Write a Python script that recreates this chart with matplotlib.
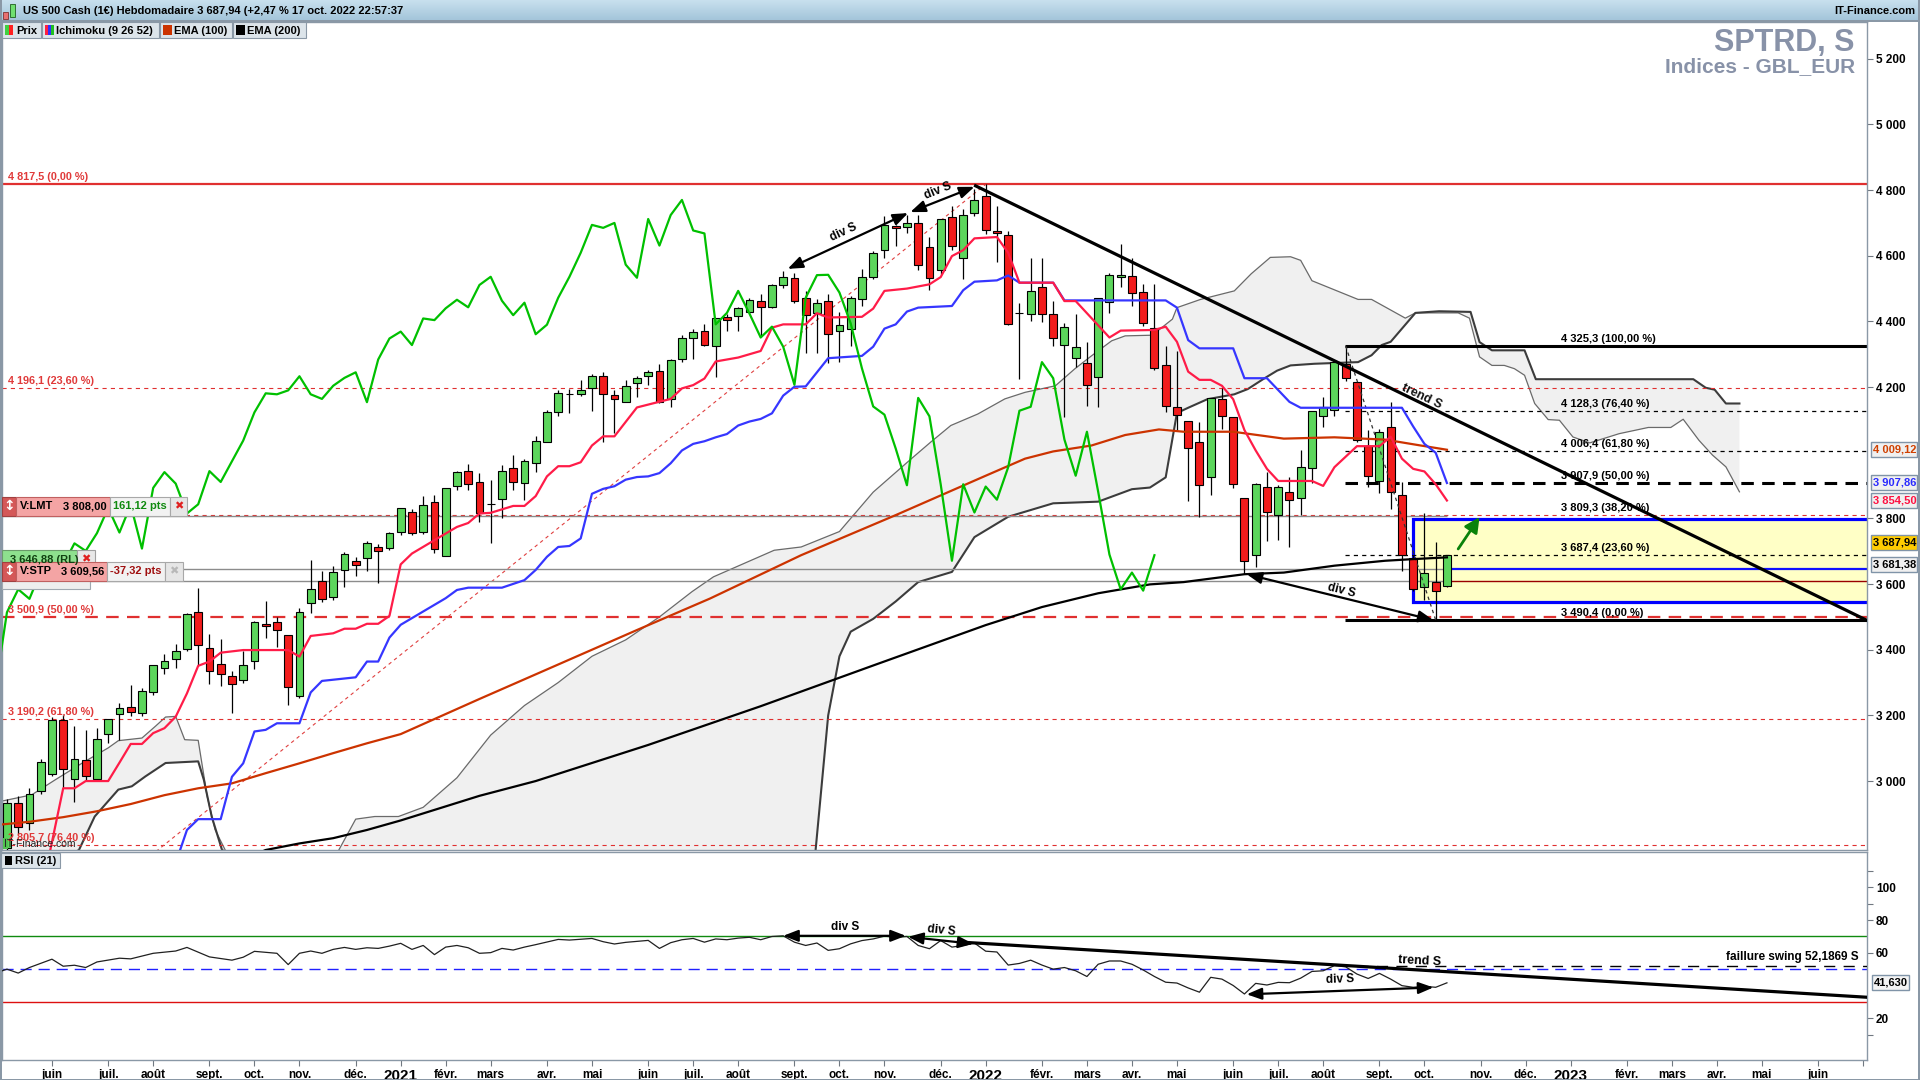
"""Weekly US 500 chart: candles, Ichimoku, EMA 100/200, fib levels and RSI (21)."""

import datetime as dt

import matplotlib
matplotlib.use("Agg")
import matplotlib.pyplot as plt
import matplotlib.transforms as mtransforms
from matplotlib.colors import LinearSegmentedColormap
from matplotlib.patches import FancyArrowPatch, Rectangle
import numpy as np

NARROW = ["Liberation Sans Narrow", "Liberation Sans", "DejaVu Sans"]
plt.rcParams.update({
    "font.family": NARROW,
    "font.weight": "bold",
    "font.size": 8,
    "lines.scale_dashes": False,
})

W, H = 1920, 1080

# ------------------------------------------------------------------
# data (week index 0 = week of 3 Jan 2022, first candle = week -87)
# ------------------------------------------------------------------
FIRST_WEEK = -87
opens = [2795, 2932, 2871, 2971, 3022, 3186, 3006, 3064, 3005, 3143,
         3204, 3225, 3207, 3270, 3344, 3371, 3401, 3514, 3404, 3356,
         3320, 3308, 3366, 3478, 3484, 3444, 3259, 3542, 3608, 3560,
         3643, 3670, 3679, 3713, 3709, 3759, 3820, 3759, 3850, 3686,
         3899, 3944, 3911, 3843, 3858, 3953, 3909, 3968, 4034, 4123,
         4178, 4178, 4196, 4235, 4177, 4154, 4211, 4233, 4250, 4164,
         4287, 4349, 4371, 4324, 4413, 4416, 4430, 4463, 4445, 4512,
         4532, 4472, 4425, 4462, 4371, 4378, 4467, 4536, 4619, 4690,
         4688, 4700, 4627, 4558, 4718, 4594, 4730, 4781, 4675, 4664,
         4426, 4422, 4506, 4424, 4329, 4290, 4272, 4232, 4460, 4536,
         4538, 4489, 4380, 4266, 4139, 4098, 4034, 3927, 4165, 4109,
         3861, 3690, 3897, 3811, 3881, 3861, 3954, 4113, 4131, 4271,
         4214, 4020, 3914, 4078, 3870, 3680, 3590, 3605, 3593]
highs = [2945, 2953, 2978, 3066, 3196, 3201, 3168, 3156, 3163, 3188,
         3239, 3293, 3282, 3354, 3387, 3417, 3512, 3587, 3447, 3432,
         3335, 3396, 3487, 3549, 3501, 3445, 3526, 3672, 3640, 3655,
         3699, 3681, 3732, 3721, 3760, 3832, 3828, 3868, 3872, 3893,
         3945, 3966, 3939, 3918, 3963, 3992, 3982, 4050, 4130, 4192,
         4194, 4221, 4240, 4245, 4191, 4221, 4235, 4252, 4270, 4287,
         4358, 4376, 4393, 4409, 4424, 4444, 4470, 4482, 4513, 4553,
         4548, 4493, 4467, 4482, 4429, 4477, 4560, 4614, 4720, 4695,
         4725, 4725, 4658, 4712, 4751, 4741, 4803, 4817.5, 4751, 4675,
         4455, 4594, 4592, 4462, 4396, 4422, 4338, 4472, 4546, 4636,
         4592, 4513, 4513, 4326, 4309, 4098, 4095, 4167, 4196, 4109,
         3863, 3909, 3942, 3902, 3925, 4009, 4128, 4170, 4278, 4325.3,
         4214, 4069, 4072, 4154, 3912, 3690, 3817, 3728, 3688]
lows = [2780, 2840, 2850, 2962, 3015, 2980, 2937, 3003, 3003, 3115,
        3125, 3198, 3198, 3262, 3325, 3345, 3396, 3352, 3295, 3290,
        3207, 3300, 3340, 3437, 3407, 3232, 3252, 3511, 3545, 3552,
        3592, 3626, 3641, 3602, 3704, 3750, 3749, 3754, 3695, 3686,
        3885, 3885, 3789, 3726, 3801, 3888, 3855, 3941, 4032, 4111,
        4120, 4174, 4128, 4034, 4061, 4154, 4169, 4207, 4150, 4138,
        4275, 4287, 4324, 4232, 4371, 4371, 4429, 4356, 4442, 4503,
        4457, 4305, 4305, 4272, 4277, 4326, 4447, 4528, 4593, 4629,
        4670, 4558, 4495, 4543, 4619, 4530, 4722, 4665, 4582, 4390,
        4224, 4402, 4399, 4326, 4108, 4262, 4141, 4138, 4425, 4505,
        4447, 4386, 4253, 4125, 4070, 3854, 3804, 3870, 4072, 3892,
        3630, 3651, 3730, 3733, 3713, 3811, 3907, 4077, 4113, 4219,
        4033, 3896, 3878, 3828, 3640, 3580, 3550, 3490.4, 3590]
closes = [2934, 2859, 2960, 3059, 3186, 3037, 3066, 3016, 3127, 3188,
          3222, 3210, 3274, 3352, 3366, 3396, 3509, 3414, 3335, 3326,
          3296, 3353, 3485, 3472, 3460, 3286, 3514, 3584, 3555, 3638,
          3691, 3658, 3724, 3701, 3755, 3832, 3757, 3841, 3708, 3893,
          3941, 3906, 3815, 3843, 3944, 3911, 3974, 4037, 4123, 4181,
          4178, 4190, 4233, 4178, 4164, 4204, 4228, 4245, 4154, 4284,
          4348, 4369, 4328, 4409, 4404, 4440, 4466, 4443, 4511, 4536,
          4463, 4419, 4457, 4361, 4390, 4472, 4536, 4609, 4694, 4685,
          4700, 4573, 4533, 4712, 4631, 4724, 4770, 4677, 4668, 4391,
          4426, 4493, 4424, 4351, 4384, 4323, 4207, 4472, 4541, 4542,
          4488, 4394, 4257, 4141, 4116, 4013, 3901, 4167, 4111, 3904,
          3671, 3904, 3818, 3897, 3857, 3956, 4128, 4140, 4276, 4227,
          4040, 3930, 4064, 3881, 3690, 3584, 3635, 3580, 3687.94]

# indicator lines: (week, value)
tenkan = [(-84, 2650), (-82, 2978), (-81, 2978), (-80, 3000), (-78, 3000), (-77, 3056),
          (-76, 3113), (-75, 3113), (-74, 3146), (-73, 3161), (-72, 3196), (-71, 3267),
          (-70, 3351), (-69, 3364), (-68, 3391), (-66, 3399), (-62, 3399), (-61, 3379),
          (-60, 3442), (-58, 3450), (-57, 3464), (-56, 3464), (-55, 3479), (-54, 3479),
          (-53, 3503), (-52, 3660), (-51, 3693), (-48, 3754), (-47, 3774), (-46, 3786),
          (-45, 3815), (-44, 3817), (-42, 3838), (-41, 3838), (-40, 3868), (-39, 3928),
          (-38, 3959), (-37, 3959), (-36, 3971), (-35, 4022), (-34, 4050), (-33, 4050),
          (-31, 4138), (-28, 4164), (-27, 4196), (-26, 4206), (-25, 4226), (-24, 4278),
          (-22, 4290), (-20, 4310), (-19, 4381), (-18, 4391), (-16, 4391), (-15, 4425),
          (-14, 4412), (-11, 4414), (-10, 4439), (-9, 4493), (-7, 4500), (-5, 4513),
          (-4, 4535), (-3, 4599), (-2, 4617), (-1, 4653), (1, 4657), (2, 4609),
          (3, 4518), (6, 4518), (7, 4462), (8, 4462), (11, 4351), (12, 4372),
          (15, 4374), (16, 4384), (17, 4338), (18, 4247), (19, 4222), (20, 4222),
          (21, 4204), (22, 4163), (23, 4069), (24, 4007), (25, 3951), (26, 3914),
          (29, 3914), (30, 3899), (31, 3956), (33, 4020), (35, 4020), (36, 4049),
          (37, 3982), (38, 3951), (39, 3943), (40, 3904), (41, 3854.5)]
kijun = [(-73, 2650), (-71, 2851), (-70, 2884), (-68, 2884), (-67, 3013), (-66, 3054),
         (-65, 3151), (-64, 3156), (-63, 3176), (-61, 3176), (-60, 3270), (-59, 3305),
         (-56, 3316), (-55, 3364), (-54, 3364), (-53, 3437), (-52, 3476), (-48, 3557),
         (-47, 3582), (-46, 3589), (-43, 3589), (-41, 3612), (-40, 3643), (-39, 3683),
         (-38, 3713), (-37, 3716), (-36, 3739), (-35, 3875), (-34, 3890), (-33, 3898),
         (-32, 3918), (-31, 3926), (-30, 3928), (-29, 3938), (-28, 3968), (-27, 4007),
         (-26, 4027), (-25, 4035), (-24, 4047), (-23, 4057), (-22, 4083), (-21, 4095),
         (-20, 4103), (-19, 4120), (-18, 4174), (-17, 4201), (-16, 4202), (-15, 4245),
         (-14, 4288), (-11, 4295), (-10, 4323), (-9, 4378), (-8, 4391), (-7, 4430),
         (-6, 4442), (-3, 4447), (-2, 4495), (-1, 4521), (1, 4525), (2, 4540),
         (3, 4518), (6, 4518), (7, 4464), (16, 4464), (17, 4442), (18, 4343),
         (19, 4318), (22, 4318), (23, 4227), (25, 4227), (27, 4155), (28, 4137),
         (37, 4137), (38, 4080), (39, 4027), (40, 4000), (41, 3907.86)]
senkou_a = [(-88, 2935), (-84.8, 2958), (-82.7, 3004), (-80.3, 3055), (-78, 3101), (-77.1, 3123),
            (-75, 3131), (-73.8, 3167), (-72.9, 3195), (-72, 3197), (-71.2, 3126), (-70, 3124),
            (-69.2, 2953), (-68.5, 2852), (-67.6, 2790), (-67, 2700), (-58, 2700), (-57.5, 2790),
            (-56, 2884), (-54.3, 2892), (-52.2, 2892), (-50, 2920), (-47, 3010), (-44, 3140),
            (-41, 3230), (-38, 3300), (-35, 3380), (-32, 3430), (-29, 3500), (-26.1, 3577),
            (-24.2, 3622), (-21.8, 3658), (-18.8, 3703), (-16.4, 3713), (-13, 3760), (-10, 3880),
            (-6.6, 3982), (-4.9, 4032), (-3.1, 4083), (-0.7, 4118), (1.7, 4164), (3.5, 4184),
            (6.2, 4204), (7.9, 4255), (9.4, 4295), (11.2, 4341), (12.4, 4356), (14.8, 4358),
            (16.6, 4407), (17, 4442), (19.1, 4467), (22.1, 4493), (23.6, 4545), (25.3, 4595),
            (27.1, 4597), (28, 4586), (29, 4524), (33.1, 4467), (34.3, 4467), (37.3, 4410),
            (38.2, 4426), (42, 4426), (43, 4410), (43.9, 4292), (45, 4266), (46.1, 4266),
            (47, 4256), (47.9, 4236), (48.8, 4150), (50, 4101), (51, 4099), (52.2, 4048),
            (53.7, 4030), (56.3, 4058), (58.9, 4077), (60.9, 4077), (62, 4102), (63.4, 4038),
            (64.6, 3993), (65.8, 3957), (67, 3881)]
senkou_b = [(-88, 2650), (-80.6, 2790), (-79.2, 2892), (-77.1, 2974), (-75.9, 2984), (-74.7, 3014),
            (-72.9, 3055), (-70, 3060), (-69.5, 3004), (-68.8, 2892), (-67.9, 2792), (-67, 2760),
            (-15.2, 2760), (-14, 3200), (-13, 3380), (-12, 3455), (-10, 3494), (-8, 3547),
            (-6, 3606), (-3, 3637), (-1, 3743), (2, 3805), (6, 3846), (10, 3851),
            (13, 3889), (14.6, 3894), (16, 3925), (17, 4121), (18, 4137), (19.7, 4163),
            (22.1, 4178), (23.3, 4194), (24.7, 4225), (25.9, 4250), (27.1, 4266), (29.2, 4271),
            (33.1, 4276), (34.3, 4297), (35.2, 4328), (36, 4338), (38.2, 4426), (40.3, 4431),
            (43.1, 4429), (43.9, 4337), (45, 4312), (47.9, 4312), (48.9, 4224), (62.9, 4224),
            (64, 4198), (64.8, 4192), (65.8, 4150), (67, 4150)]
ema100 = [(-88, 2866), (-85, 2876), (-82, 2890), (-79, 2908), (-76, 2930), (-73, 2957),
          (-70, 2978), (-67, 2993), (-64, 3024), (-61, 3054), (-58, 3085), (-55, 3115),
          (-52, 3143), (-45, 3250), (-38, 3355), (-31, 3460), (-24.5, 3556), (-16.4, 3688),
          (-8, 3810), (0, 3930), (3.5, 3982), (6, 4004), (9.4, 4022), (12.4, 4054),
          (15.4, 4071), (17.6, 4064), (22, 4064), (26.5, 4043), (31, 4047), (35.5, 4040),
          (38.5, 4023), (41, 4009.12)]
ema200 = [(-66, 2760), (-64, 2790), (-61, 2810), (-58, 2826), (-55, 2851), (-52, 2880),
          (-45, 2955), (-40, 3000), (-30, 3110), (-20, 3228), (-10, 3352), (0, 3475),
          (5, 3530), (10, 3572), (14.6, 3599), (17.6, 3606), (23, 3630), (26.5, 3635),
          (31, 3656), (35.5, 3671), (38, 3676), (41, 3681.38)]
rsi = [(-88, 47.6), (-87, 50.0), (-86, 47.6), (-85, 51.0), (-83, 56.1), (-82, 51.8),
       (-81, 52.4), (-80, 51.0), (-79, 54.4), (-77, 56.7), (-76, 56.3), (-74, 59.7),
       (-72, 61.1), (-71, 63.3), (-69, 57.5), (-67, 55.5), (-66, 57.3), (-65, 60.9),
       (-63, 59.7), (-62, 52.8), (-61, 59.7), (-60, 61.1), (-59, 59.7), (-58, 62.1),
       (-57, 63.3), (-56, 62.1), (-55, 63.1), (-54, 62.7), (-53, 64.1), (-52, 65.8),
       (-51, 62.1), (-50, 64.5), (-49, 58.9), (-48, 63.5), (-47, 64.5), (-46, 63.1),
       (-45, 59.7), (-44, 60.1), (-43, 62.7), (-42, 61.7), (-41, 63.5), (-40, 65.0),
       (-39, 66.6), (-38, 68.2), (-37, 67.8), (-35, 68.8), (-34, 66.8), (-33, 65.4),
       (-32, 66.4), (-30, 67.6), (-29, 62.7), (-28, 66.2), (-27, 68.0), (-26, 68.8),
       (-25, 66.5), (-24, 68.5), (-23, 68.0), (-22, 69.0), (-21, 69.5), (-20, 68.0),
       (-19, 70.0), (-18, 70.4), (-17, 66.5), (-16, 64.5), (-15, 66.0), (-14, 61.5),
       (-13, 62.5), (-12, 65.5), (-11, 67.5), (-10, 68.5), (-9, 70.2), (-8, 69.5),
       (-7, 70.0), (-6, 64.5), (-5, 62.5), (-4, 67.5), (-3, 63.5), (-2, 64.5),
       (-1, 66.0), (0, 61.0), (1, 60.5), (2, 52.5), (3, 53.5), (4, 55.5),
       (5, 52.5), (6, 50.0), (7, 51.0), (8, 49.0), (9, 45.5), (10, 53.0),
       (11, 55.0), (12, 55.0), (13, 53.0), (14, 49.5), (15, 45.5), (16, 42.0),
       (17, 41.5), (18, 38.5), (19, 35.9), (20, 45.0), (21, 43.9), (22, 40.0),
       (23, 34.8), (24, 41.3), (25, 40.3), (26, 41.9), (27, 41.7), (28, 44.5),
       (29, 48.6), (30, 49.0), (31, 52.19), (32, 51.4), (33, 47.0), (34, 44.3),
       (35, 47.4), (36, 43.9), (37, 39.9), (38, 38.9), (39, 39.5), (40, 38.9),
       (41, 41.63)]

# fibonacci levels
red_fib = [4817.5, 4196.1, 3811.7, 3500.9, 3190.2, 2805.7]
red_fib_labels = ["4 817,5 (0,00 %)", "4 196,1 (23,60 %)", "", "3 500,9 (50,00 %)",
                  "3 190,2 (61,80 %)", "2 805,7 (76,40 %)"]
black_fib = [4325.3, 4128.3, 4006.4, 3907.9, 3809.3, 3687.4, 3490.4]
black_fib_labels = ["4 325,3 (100,00 %)", "4 128,3 (76,40 %)", "4 006,4 (61,80 %)",
                    "3 907,9 (50,00 %)", "3 809,3 (38,20 %)", "3 687,4 (23,60 %)",
                    "3 490,4 (0,00 %)"]
order_levels = [3808.00, 3646.88, 3609.56]
last_price = 3687.94

# axis ticks
price_ticks = [5200, 5000, 4800, 4600, 4400, 4200, 3800, 3600, 3400, 3200, 3000]
price_tick_labels = ["5 200", "5 000", "4 800", "4 600", "4 400", "4 200",
                     "3 800", "3 600", "3 400", "3 200", "3 000"]
rsi_ticks = [110, 100, 90, 80, 60, 20, 10]
rsi_tick_labels = ["", "100", "", "80", "60", "20", ""]
month_dates = ["2020-06-01", "2020-07-06", "2020-08-03", "2020-09-07", "2020-10-05",
               "2020-11-02", "2020-12-07", "2021-01-04", "2021-02-01", "2021-03-01",
               "2021-04-05", "2021-05-03", "2021-06-07", "2021-07-05", "2021-08-02",
               "2021-09-06", "2021-10-04", "2021-11-01", "2021-12-06", "2022-01-03",
               "2022-02-07", "2022-03-07", "2022-04-04", "2022-05-02", "2022-06-06",
               "2022-07-04", "2022-08-01", "2022-09-05", "2022-10-03", "2022-11-07",
               "2022-12-05", "2023-01-02", "2023-02-06", "2023-03-06", "2023-04-03",
               "2023-05-01", "2023-06-05", "2023-07-03"]
month_labels = ["juin", "juil.", "août", "sept.", "oct.", "nov.", "déc.", "2021",
                "févr.", "mars", "avr.", "mai", "juin", "juil.", "août", "sept.",
                "oct.", "nov.", "déc.", "2022", "févr.", "mars", "avr.", "mai",
                "juin", "juil.", "août", "sept.", "oct.", "nov.", "déc.", "2023",
                "févr.", "mars", "avr.", "mai", "juin", ""]
REF_DAY = dt.date(2022, 1, 3)

# ------------------------------------------------------------------
# helpers
# ------------------------------------------------------------------
IDT = mtransforms.IdentityTransform()


def unzip(pairs):
    return [p[0] for p in pairs], [p[1] for p in pairs]


def prect(fig, x0, y0, x1, y1, fc, ec="none", lw=0.8, z=5):
    r = Rectangle((x0, H - y1), x1 - x0, y1 - y0, transform=IDT,
                  facecolor=fc, edgecolor=ec, linewidth=lw, zorder=z)
    fig.add_artist(r)


def ptext(fig, x, y, s, z=7, **kw):
    kw.setdefault("va", "center")
    fig.text(x / W, 1 - y / H, s, zorder=z, **kw)


def py(a, v):
    return H - a.transData.transform((0, v))[1]


def dashed(a, y, x0, x1, color, lw, on, off, z=2):
    a.hlines(y, x0, x1, colors=color, linewidth=lw, linestyles=(0, (on, off)), zorder=z)


# ------------------------------------------------------------------
# figure
# ------------------------------------------------------------------
fig = plt.figure(figsize=(W / 100, H / 100), dpi=100)
fig.patch.set_facecolor("white")

XMIN, XMAX = -87.44, 78.34
ax = fig.add_axes([2 / W, 1 - 850 / H, 1865 / W, 828 / H])
rax = fig.add_axes([2 / W, 1 - 1060 / H, 1865 / W, 208 / H], sharex=ax)
ax.set_xlim(XMIN, XMAX)
ax.set_ylim(2790, 5312)
rax.set_ylim(-5.6, 121.7)

for a in (ax, rax):
    for sp in a.spines.values():
        sp.set_color("#8a98a6")
        sp.set_linewidth(1.0)
    a.set_facecolor("white")

weeks = np.arange(FIRST_WEEK, FIRST_WEEK + len(closes))
o, h, l, c = (np.array(v, dtype=float) for v in (opens, highs, lows, closes))

# --- ichimoku cloud ---
ak, av = unzip(senkou_a)
bk, bv = unzip(senkou_b)
ax.fill(ak + bk[::-1], av + bv[::-1], color="#f0f0f0", lw=0, zorder=1)
ax.plot(ak, av, color="#6a6a6a", lw=0.9, zorder=1.2)
ax.plot(bk, bv, color="#3c3c3c", lw=1.5, zorder=1.2)

# --- red fib (full width) ---
for lev, lab in zip(red_fib, red_fib_labels):
    if lev == red_fib[0]:
        ax.axhline(lev, color="#e03030", lw=1.6, zorder=2)
    elif lab.startswith("3 500"):
        dashed(ax, lev, XMIN, XMAX, "#e03030", 1.6, 9, 6)
    else:
        dashed(ax, lev, XMIN, XMAX, "#e03030", 0.8, 3, 3)
    if lab:
        ax.annotate(lab, xy=(0.003, lev), xycoords=ax.get_yaxis_transform(),
                    xytext=(0, 1.5), textcoords="offset points", va="bottom",
                    ha="left", color="#e03a3a", fontsize=7.8, zorder=6)
ax.plot([-95, 0], [2200, 4817.5], color="#e04040", lw=0.8,
        linestyle=(0, (2.5, 2.5)), zorder=2)

# --- order lines ---
for lev in order_levels:
    ax.hlines(lev, XMIN, 41, colors="#8c8c8c", lw=1.0, zorder=2.1)

# --- yellow zone ---
ax.add_patch(Rectangle((38.0, 3545), 45, 254, facecolor="#ffffc6",
                       edgecolor="#0000ff", lw=2.3, zorder=1.6))
ax.hlines(order_levels[1], 41, XMAX, colors="#1010ff", lw=1.6, zorder=2.2)
ax.hlines(order_levels[2], 41, XMAX, colors="#990000", lw=1.0, zorder=2.2)

# --- black fib (from week 32) ---
FIB_X0 = 31.9
fib_style = ["solid", "thin", "thin", "thick", None, "thin", "solid"]
for lev, lab, st in zip(black_fib, black_fib_labels, fib_style):
    if st == "solid":
        ax.hlines(lev, FIB_X0, XMAX, colors="black", lw=2.2, zorder=2.3)
    elif st == "thin":
        dashed(ax, lev, FIB_X0, XMAX, "black", 0.9, 3, 3, z=2.3)
    elif st == "thick":
        dashed(ax, lev, FIB_X0, XMAX, "black", 2.2, 9, 6, z=2.3)
    ax.annotate(lab, xy=(51.1, lev), xytext=(0, 1.5), textcoords="offset points",
                va="bottom", ha="left", color="black", fontsize=8, zorder=6)
ax.plot([32, 40], [4325.3, 3490.4], color="#333333", lw=0.9,
        linestyle=(0, (2.5, 2.5)), zorder=3.5)

# --- candles ---
ax.vlines(weeks, l, h, color="black", lw=0.9, zorder=3)
up = c >= o
lo = np.minimum(o, c)
hh = np.abs(c - o)
ax.bar(weeks[up], hh[up], bottom=lo[up], width=0.7, color="#5cd65c",
       edgecolor="black", linewidth=0.8, zorder=3.1)
ax.bar(weeks[~up], hh[~up], bottom=lo[~up], width=0.7, color="#f21c1c",
       edgecolor="black", linewidth=0.8, zorder=3.1)

# --- indicator lines ---
for pairs, col, lw in ((ema200, "black", 1.6), (ema100, "#cc3300", 1.6),
                       (kijun, "#3636ff", 1.6), (tenkan, "#ff1c48", 1.6)):
    xs, ys = unzip(pairs)
    ax.plot(xs, ys, color=col, lw=lw, zorder=4)
ax.plot(weeks - 26, c, color="#00c000", lw=1.6, zorder=4)   # chikou span

# --- trend line and annotations on price ---
ax.plot([-0.9, 78.3], [4813, 3490], color="black", lw=2.3, zorder=5)
ax.text(38.8, 4170, "trend S", rotation=-25.5, ha="center", va="center",
        fontsize=9, color="#111111", zorder=6)


def div_arrow(a, p0, p1, lw=1.6):
    a.add_patch(FancyArrowPatch(p0, p1, arrowstyle="<|-|>,head_length=0.9,head_width=0.35",
                                mutation_scale=10, lw=lw, color="black",
                                shrinkA=0, shrinkB=0, zorder=5))


div_arrow(ax, (-17.6, 4560), (-6.9, 4730))
div_arrow(ax, (-6.7, 4733), (-1.0, 4810))
div_arrow(ax, (23.2, 3630), (39.8, 3490))
ax.text(-12.6, 4672, "div S", rotation=25, ha="center", va="center", fontsize=8.5, zorder=6)
ax.text(-4.2, 4797, "div S", rotation=22, ha="center", va="center", fontsize=8.5, zorder=6)
ax.text(31.6, 3580, "div S", rotation=-14, ha="center", va="center", fontsize=8.5, zorder=6)
ax.add_patch(FancyArrowPatch((42.0, 3707), (43.9, 3804),
                             arrowstyle="-|>,head_length=0.9,head_width=0.45",
                             mutation_scale=10, lw=2.0, color="#0a820a",
                             shrinkA=0, shrinkB=0, zorder=5))

# --- price axis ---
ax.yaxis.tick_right()
ax.set_yticks(price_ticks)
ax.set_yticklabels(price_tick_labels)
ax.tick_params(axis="y", direction="out", length=4, width=0.8, color="#707880",
               pad=2.5, labelsize=8.5)
ax.tick_params(axis="x", length=0, labelbottom=False)

# --- RSI panel ---
rk, rv = unzip(rsi)
rax.axhline(70, color="#108a10", lw=1.0, zorder=2)
rax.axhline(30, color="#dd1010", lw=1.0, zorder=2)
rax.axhline(50, color="#2020ff", lw=1.0, linestyle=(0, (8, 5)), zorder=2)
rax.plot(rk, rv, color="#202020", lw=0.9, zorder=4)
rax.plot([-1.6, 78.34], [66.3, 32.8], color="black", lw=2.3, zorder=5)
dashed(rax, 52.1869, 33.0, XMAX, "black", 1.0, 8, 6, z=3)
rax.text(38.6, 55.2, "trend S", rotation=-3, ha="center", va="center", fontsize=9, zorder=6)
rax.text(77.6, 57.5, "faillure swing 52,1869 S", ha="right", va="center", fontsize=8.5, zorder=6)
div_arrow(rax, (-18.0, 70.4), (-7.1, 70.4))
div_arrow(rax, (-6.9, 69.8), (-1.1, 65.5))
div_arrow(rax, (23.2, 34.6), (39.8, 38.8))
rax.text(-12.5, 75.5, "div S", ha="center", va="center", fontsize=8.5, zorder=6)
rax.text(-3.9, 73.5, "div S", rotation=-6, ha="center", va="center", fontsize=8.5, zorder=6)
rax.text(31.5, 43.5, "div S", rotation=2, ha="center", va="center", fontsize=8.5, zorder=6)

rax.yaxis.tick_right()
rax.set_yticks(rsi_ticks)
rax.set_yticklabels(rsi_tick_labels)
rax.tick_params(axis="y", direction="out", length=4, width=0.8, color="#707880",
                pad=2.5, labelsize=8.5)
month_k = [(dt.date.fromisoformat(d) - REF_DAY).days / 7 for d in month_dates]
rax.set_xticks(month_k)
rax.set_xticklabels(month_labels)
rax.tick_params(axis="x", direction="out", length=4, width=0.8, color="#707880",
                pad=2.5, labelsize=8.5)
for t in rax.get_xticklabels():
    if t.get_text().isdigit():
        t.set_fontsize(11)
ax.set_xlim(XMIN, XMAX)

# ------------------------------------------------------------------
# overlays in pixel space
# ------------------------------------------------------------------
# title bar
tb = fig.add_axes([0, 1 - 21 / H, 1, 21 / H])
tb.imshow(np.linspace(0, 1, 32).reshape(-1, 1), aspect="auto", extent=[0, 1, 0, 1],
          cmap=LinearSegmentedColormap.from_list("bar", ["#c8e0ee", "#a2c4d9"]))
tb.axis("off")
prect(fig, 0, 20, W, 21.5, "#8a98a6")
prect(fig, 3, 12, 8, 19, "#e87070", ec="#803030", lw=0.6)
prect(fig, 10, 4, 15, 17, "#70e070", ec="#206020", lw=0.6)
ptext(fig, 23, 11.5, "US 500 Cash (1€) Hebdomadaire 3 687,94 (+2,47 % 17 oct. 2022 22:57:37",
      fontsize=8, color="black")
ptext(fig, 1915, 11.5, "IT-Finance.com", ha="right", fontsize=8, color="black")

# indicator legend row
legend_boxes = [(2, 41, "Prix"), (42, 159, "Ichimoku (9 26 52)"),
                (160, 232, "EMA (100)"), (233, 306, "EMA (200)")]
for x0, x1, lab in legend_boxes:
    prect(fig, x0, 22, x1, 38, "#dce4ea", ec="#8a98a6", lw=0.8)
    ptext(fig, x0 + 14, 30.5, lab, fontsize=8, color="black")
prect(fig, 5, 25, 9, 35, "#40d040")
prect(fig, 9, 25, 13, 35, "#ff2020")
prect(fig, 45, 25, 48, 35, "#ff2040")
prect(fig, 48, 25, 51, 35, "#3030ff")
prect(fig, 51, 25, 54, 35, "#20c020")
prect(fig, 163, 25, 172, 35, "#cc3300")
prect(fig, 236, 25, 245, 35, "black")

# instrument name
fig.text(1855 / W, 1 - 43 / H, "SPTRD, S", ha="right", va="center", fontsize=22,
         color="#8892a8", family=["Liberation Sans", "DejaVu Sans"], zorder=7)
fig.text(1855 / W, 1 - 67 / H, "Indices - GBL_EUR", ha="right", va="center", fontsize=15,
         color="#8892a8", family=["Liberation Sans", "DejaVu Sans"], zorder=7)

# order boxes
y_lmt = py(ax, order_levels[0])
y_rl = py(ax, order_levels[1])
y_stp = py(ax, order_levels[2])
prect(fig, 2, y_rl - 19, 77, y_rl, "#8ee08e", ec="#6a9a6a")
ptext(fig, 10, y_rl - 9, "3 646,88 (RL)", fontsize=8, color="#104010")
prect(fig, 77, y_rl - 19, 95, y_rl, "#e8e8e8", ec="#a0a0a0")
ptext(fig, 86, y_rl - 9, "✖", ha="center", fontsize=8, color="#e02020",
      family=["DejaVu Sans"])
prect(fig, 2, y_stp, 90, y_stp + 8, "#eeeeee", ec="#a0a8b0")

for yb, name, val, pts, pcol, xcol, xs in (
        (y_lmt, "V:LMT", "3 808,00", "161,12 pts", "#108a10", "#e02020", (16, 110, 170, 187)),
        (y_stp, "V:STP", "3 609,56", "-37,32 pts", "#a01010", "#b8b8b8", (16, 107, 165, 183))):
    prect(fig, 2, yb - 19, xs[0], yb, "#d45858", ec="#a04040")
    ptext(fig, 9, yb - 9.5, "↕", ha="center", fontsize=10, color="white",
          family=["DejaVu Sans"])
    prect(fig, xs[0], yb - 19, xs[1], yb, "#f4a4a4", ec="#c06060")
    ptext(fig, xs[0] + 4, yb - 9.5, name, fontsize=8, color="black")
    ptext(fig, xs[1] - 3, yb - 9.5, val, ha="right", fontsize=8, color="black")
    prect(fig, xs[1], yb - 19, xs[2], yb, "#f2f2f2", ec="#a8a8a8")
    ptext(fig, (xs[1] + xs[2]) / 2, yb - 9.5, pts, ha="center", fontsize=8, color=pcol)
    prect(fig, xs[2], yb - 19, xs[3], yb, "#e6e6e6", ec="#a8a8a8")
    ptext(fig, (xs[2] + xs[3]) / 2, yb - 9.5, "✖", ha="center", fontsize=8, color=xcol,
          family=["DejaVu Sans"])

# right axis value boxes
value_boxes = [(ema100[-1][1], "4 009,12", "#f0f0f0", "#d04000", 0),
               (kijun[-1][1], "3 907,86", "#f0f0f0", "#2a2aff", 0),
               (tenkan[-1][1], "3 854,50", "#f0f0f0", "#ff1040", 0),
               (last_price, "3 687,94", "#ffcc00", "black", -13),
               (ema200[-1][1], "3 681,38", "#f0f0f0", "black", 7)]
for v, s, fc, tc, dy in value_boxes:
    yc = py(ax, v) + dy
    prect(fig, 1871, yc - 7.5, 1917, yc + 7.5, fc, ec="#8094a8", lw=1.0)
    ptext(fig, 1873, yc, s, fontsize=8, color=tc)
yr = py(rax, rsi[-1][1])
prect(fig, 1872, yr - 7.5, 1909, yr + 7.5, "#f4f4f4", ec="#8094a8", lw=1.0)
ptext(fig, 1874, yr, "41,630", fontsize=8, color="black")

# watermark and RSI legend
prect(fig, 3, 838, 8, 849, "#50c050")
ptext(fig, 4, 844, "IT-Finance.com", fontsize=7.5, color="#222222", weight="normal")
prect(fig, 1, 853, 60, 868, "#dce4ea", ec="#8a98a6")
prect(fig, 5, 856, 12, 865, "black")
ptext(fig, 15, 860.5, "RSI (21)", fontsize=8, color="black")

# outer frame
prect(fig, 0, 0, 1.5, H, "#8a98a6")
prect(fig, 1917.5, 0, W, H, "#8a98a6")
prect(fig, 0, H - 1.5, W, H, "#8a98a6")

fig.savefig("out.png", dpi=100)
